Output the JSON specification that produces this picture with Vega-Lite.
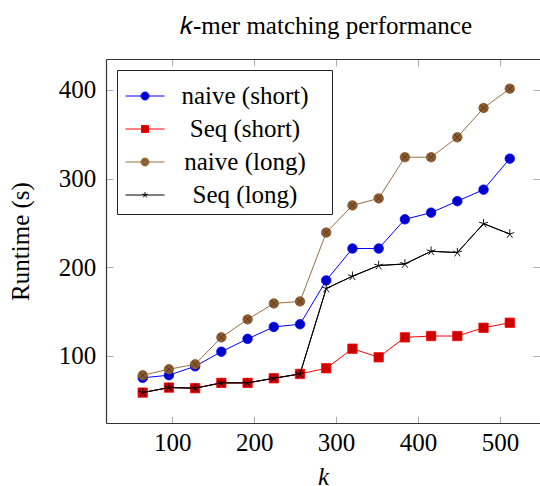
{
  "$schema": "https://vega.github.io/schema/vega-lite/v6.json",
  "width": 434,
  "height": 364,
  "autosize": {"type": "none"},
  "padding": {"left": 106, "top": 59, "right": 0, "bottom": 63},
  "config": {
    "font": "Liberation Serif",
    "view": {"stroke": null},
    "axis": {"grid": false, "labelFlush": false, "labelOverlap": false, "labelFont": "Liberation Serif", "titleFont": "Liberation Serif"},
    "legend": {"labelFont": "Liberation Serif", "titleFont": "Liberation Serif"}
  },
  "title": {
    "text": "𝑘-mer matching performance",
    "font": "Liberation Serif",
    "fontSize": 25,
    "fontWeight": "normal",
    "color": "black",
    "anchor": "middle",
    "baseline": "alphabetic",
    "offset": 0,
    "dx": 3
  },
  "data": {
    "values": [
      {"series": "naive (short)", "k": 64, "runtime": 75},
      {"series": "naive (short)", "k": 96, "runtime": 78},
      {"series": "naive (short)", "k": 128, "runtime": 88},
      {"series": "naive (short)", "k": 160, "runtime": 104.5},
      {"series": "naive (short)", "k": 192, "runtime": 119},
      {"series": "naive (short)", "k": 224, "runtime": 132.5},
      {"series": "naive (short)", "k": 256, "runtime": 135.5},
      {"series": "naive (short)", "k": 288, "runtime": 185},
      {"series": "naive (short)", "k": 320, "runtime": 221},
      {"series": "naive (short)", "k": 352, "runtime": 221},
      {"series": "naive (short)", "k": 384, "runtime": 254},
      {"series": "naive (short)", "k": 416, "runtime": 261.5},
      {"series": "naive (short)", "k": 448, "runtime": 274.5},
      {"series": "naive (short)", "k": 480, "runtime": 287.5},
      {"series": "naive (short)", "k": 512, "runtime": 322.5},
      {"series": "Seq (short)", "k": 64, "runtime": 58.3},
      {"series": "Seq (short)", "k": 96, "runtime": 64},
      {"series": "Seq (short)", "k": 128, "runtime": 63.3},
      {"series": "Seq (short)", "k": 160, "runtime": 69.3},
      {"series": "Seq (short)", "k": 192, "runtime": 69.3},
      {"series": "Seq (short)", "k": 224, "runtime": 74.5},
      {"series": "Seq (short)", "k": 256, "runtime": 79.4},
      {"series": "Seq (short)", "k": 288, "runtime": 85.8},
      {"series": "Seq (short)", "k": 320, "runtime": 107.9},
      {"series": "Seq (short)", "k": 352, "runtime": 98.2},
      {"series": "Seq (short)", "k": 384, "runtime": 120.7},
      {"series": "Seq (short)", "k": 416, "runtime": 122.2},
      {"series": "Seq (short)", "k": 448, "runtime": 122.2},
      {"series": "Seq (short)", "k": 480, "runtime": 131.5},
      {"series": "Seq (short)", "k": 512, "runtime": 137.2},
      {"series": "naive (long)", "k": 64, "runtime": 77.9},
      {"series": "naive (long)", "k": 96, "runtime": 84.7},
      {"series": "naive (long)", "k": 128, "runtime": 90.3},
      {"series": "naive (long)", "k": 160, "runtime": 120.7},
      {"series": "naive (long)", "k": 192, "runtime": 141},
      {"series": "naive (long)", "k": 224, "runtime": 159},
      {"series": "naive (long)", "k": 256, "runtime": 161.3},
      {"series": "naive (long)", "k": 288, "runtime": 239},
      {"series": "naive (long)", "k": 320, "runtime": 269.7},
      {"series": "naive (long)", "k": 352, "runtime": 277.6},
      {"series": "naive (long)", "k": 384, "runtime": 324.1},
      {"series": "naive (long)", "k": 416, "runtime": 324.1},
      {"series": "naive (long)", "k": 448, "runtime": 346.6},
      {"series": "naive (long)", "k": 480, "runtime": 379.7},
      {"series": "naive (long)", "k": 512, "runtime": 401.5},
      {"series": "Seq (long)", "k": 64, "runtime": 58.3},
      {"series": "Seq (long)", "k": 96, "runtime": 64},
      {"series": "Seq (long)", "k": 128, "runtime": 63.3},
      {"series": "Seq (long)", "k": 160, "runtime": 69.3},
      {"series": "Seq (long)", "k": 192, "runtime": 69.3},
      {"series": "Seq (long)", "k": 224, "runtime": 74.5},
      {"series": "Seq (long)", "k": 256, "runtime": 79.4},
      {"series": "Seq (long)", "k": 288, "runtime": 175.9},
      {"series": "Seq (long)", "k": 320, "runtime": 189.7},
      {"series": "Seq (long)", "k": 352, "runtime": 201.8},
      {"series": "Seq (long)", "k": 384, "runtime": 203.6},
      {"series": "Seq (long)", "k": 416, "runtime": 217.9},
      {"series": "Seq (long)", "k": 448, "runtime": 216.4},
      {"series": "Seq (long)", "k": 480, "runtime": 249.1},
      {"series": "Seq (long)", "k": 512, "runtime": 237.4}
    ]
  },
  "resolve": {"axis": {"x": "independent", "y": "independent"}},
  "layer": [
    {
      "mark": {"type": "line", "strokeWidth": 1},
      "encoding": {
        "x": {
          "field": "k", "type": "quantitative",
          "scale": {"domain": [19.2, 548.9], "nice": false, "zero": false},
          "axis": {
            "orient": "bottom", "values": [100, 200, 300, 400, 500],
            "title": "k", "titleFont": "Liberation Serif", "titleFontSize": 25, "titleFontStyle": "italic", "titleFontWeight": "normal", "titleColor": "black", "titlePadding": 9,
            "labelFont": "Liberation Serif", "labelFontSize": 25, "labelColor": "black", "labelPadding": 14.5,
            "tickSize": -7, "tickColor": "#999999", "tickWidth": 0.8,
            "domainColor": "#333333", "domainWidth": 1.2
          }
        },
        "y": {
          "field": "runtime", "type": "quantitative",
          "scale": {"domain": [24, 435], "nice": false, "zero": false},
          "axis": {
            "orient": "left", "values": [100, 200, 300, 400],
            "title": "Runtime (s)", "titleFont": "Liberation Serif", "titleFontSize": 25, "titleFontWeight": "normal", "titleColor": "black", "titlePadding": 25,
            "labelFont": "Liberation Serif", "labelFontSize": 25, "labelColor": "black", "labelPadding": 17.3,
            "tickSize": -7, "tickColor": "#999999", "tickWidth": 0.8,
            "domainColor": "#333333", "domainWidth": 1.2
          }
        },
        "color": {
          "field": "series", "type": "nominal",
          "scale": {"domain": ["naive (short)", "Seq (short)", "naive (long)", "Seq (long)"], "range": ["#0000ff", "#ff0000", "#9a6e43", "#000000"]},
          "legend": {
            "title": null,
            "orient": "top-left", "offset": 11, "padding": 6,
            "fillColor": "white", "strokeColor": "#222222", "cornerRadius": 0,
            "labelFont": "Liberation Serif", "labelFontSize": 25, "labelColor": "black",
            "labelAlign": "center", "labelOffset": 80, "labelLimit": 400, "rowPadding": -1,
            "symbolSize": 1521, "symbolStrokeWidth": 1, "symbolOffset": 2,
            "encode": {
              "symbols": {
                "update": {
                  "shape": {"signal": "(datum.value == 'naive (short)' ? 'M-1,0L-0.205,0M0.205,0L1,0M0.205,0A0.205,0.205,0,1,1,-0.205,0A0.205,0.205,0,1,1,0.205,0Z' : datum.value == 'Seq (short)' ? 'M-1,0L-0.18,0M0.18,0L1,0M-0.18,-0.18L0.18,-0.18L0.18,0.18L-0.18,0.18Z' : datum.value == 'naive (long)' ? 'M-1,0L-0.205,0M0.205,0L1,0M0.205,0A0.205,0.205,0,1,1,-0.205,0A0.205,0.205,0,1,1,0.205,0ZM-0.145,-0.145L0.145,0.145M-0.145,0.145L0.145,-0.145' : 'M-1,0L1,0M0,0L0,-0.15M0,0L-0.143,-0.046M0,0L-0.088,0.121M0,0L0.088,0.121M0,0L0.143,-0.046') + 'M9.15,0L9.15,0'"},
                  "fill": {"signal": "datum.value == 'naive (short)' ? '#0000cc' : datum.value == 'Seq (short)' ? '#cc0000' : datum.value == 'naive (long)' ? '#8a5a2e' : 'transparent'"},
                  "stroke": {"signal": "datum.value == 'naive (short)' ? '#0000ff' : datum.value == 'Seq (short)' ? '#ff0000' : datum.value == 'naive (long)' ? '#a88a6a' : '#000000'"},
                  "strokeWidth": {"value": 1},
                  "strokeCap": {"value": "butt"},
                  "opacity": {"value": 1}
                }
              }
            }
          }
        }
      }
    },
    {
      "transform": [{"filter": "datum.series == 'naive (short)'"}],
      "mark": {"type": "point", "filled": true, "opacity": 1, "size": 90, "strokeWidth": 0.8, "shape": "circle", "fill": "#0000cc", "stroke": "#0000ff"},
      "encoding": {
        "x": {
          "field": "k", "type": "quantitative",
          "scale": {"domain": [19.2, 548.9], "nice": false, "zero": false},
          "axis": {
            "orient": "top", "values": [100, 200, 300, 400, 500], "title": null, "labels": false,
            "tickSize": -7, "tickColor": "#999999", "tickWidth": 0.8,
            "domainColor": "#333333", "domainWidth": 1.2
          }
        },
        "y": {
          "field": "runtime", "type": "quantitative",
          "scale": {"domain": [24, 435], "nice": false, "zero": false},
          "axis": {
            "orient": "right", "values": [100, 200, 300, 400], "title": null, "labels": false,
            "tickSize": -7, "tickColor": "#999999", "tickWidth": 0.8, "domain": false
          }
        }
      }
    },
    {
      "transform": [{"filter": "datum.series == 'Seq (short)'"}],
      "mark": {"type": "point", "filled": true, "opacity": 1, "size": 87, "strokeWidth": 0.8, "shape": "square", "fill": "#cc0000", "stroke": "#ff0000"},
      "encoding": {
        "x": {"field": "k", "type": "quantitative", "scale": {"domain": [19.2, 548.9], "nice": false, "zero": false}, "axis": null},
        "y": {"field": "runtime", "type": "quantitative", "scale": {"domain": [24, 435], "nice": false, "zero": false}, "axis": null}
      }
    },
    {
      "transform": [{"filter": "datum.series == 'naive (long)'"}],
      "mark": {"type": "point", "filled": true, "opacity": 1, "size": 90, "strokeWidth": 0.8, "shape": "circle", "fill": "#8a5a2e", "stroke": "#8a5a2e"},
      "encoding": {
        "x": {"field": "k", "type": "quantitative", "scale": {"domain": [19.2, 548.9], "nice": false, "zero": false}, "axis": null},
        "y": {"field": "runtime", "type": "quantitative", "scale": {"domain": [24, 435], "nice": false, "zero": false}, "axis": null}
      }
    },
    {
      "transform": [{"filter": "datum.series == 'naive (long)'"}],
      "mark": {"type": "point", "filled": false, "opacity": 1, "size": 90, "strokeWidth": 0.7, "color": "#4a3015", "shape": "M-0.707,-0.707L0.707,0.707M-0.707,0.707L0.707,-0.707"},
      "encoding": {
        "x": {"field": "k", "type": "quantitative", "scale": {"domain": [19.2, 548.9], "nice": false, "zero": false}, "axis": null},
        "y": {"field": "runtime", "type": "quantitative", "scale": {"domain": [24, 435], "nice": false, "zero": false}, "axis": null}
      }
    },
    {
      "transform": [{"filter": "datum.series == 'Seq (long)'"}],
      "mark": {"type": "line", "strokeWidth": 1, "color": "#000000"},
      "encoding": {
        "x": {"field": "k", "type": "quantitative", "scale": {"domain": [19.2, 548.9], "nice": false, "zero": false}, "axis": null},
        "y": {"field": "runtime", "type": "quantitative", "scale": {"domain": [24, 435], "nice": false, "zero": false}, "axis": null}
      }
    },
    {
      "transform": [{"filter": "datum.series == 'Seq (long)'"}],
      "mark": {"type": "point", "filled": false, "opacity": 1, "size": 90, "strokeWidth": 0.9, "color": "#000000", "shape": "M0,0L0,-1M0,0L-0.951,-0.309M0,0L-0.588,0.809M0,0L0.588,0.809M0,0L0.951,-0.309"},
      "encoding": {
        "x": {"field": "k", "type": "quantitative", "scale": {"domain": [19.2, 548.9], "nice": false, "zero": false}, "axis": null},
        "y": {"field": "runtime", "type": "quantitative", "scale": {"domain": [24, 435], "nice": false, "zero": false}, "axis": null}
      }
    }
  ]
}
